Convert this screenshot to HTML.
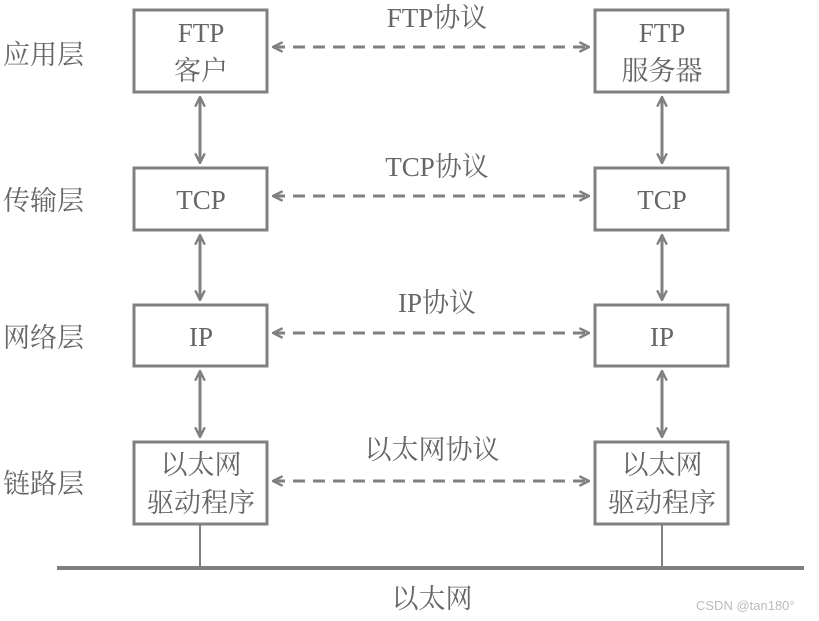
<!DOCTYPE html>
<html><head><meta charset="utf-8"><style>
html,body{margin:0;padding:0;background:#fff;width:819px;height:621px;overflow:hidden}
svg text{font-family:"Liberation Serif","Noto Serif CJK SC",serif;fill:#666;font-size:27px}
</style></head><body>
<svg width="819" height="621" viewBox="0 0 819 621" xmlns="http://www.w3.org/2000/svg">
<defs>
<marker id="a" viewBox="0 0 10 10" refX="9" refY="5" markerWidth="4" markerHeight="4" orient="auto-start-reverse">
<path d="M1,1 L9,5 L1,9" fill="none" stroke="#808080" stroke-width="2"/>
</marker>
</defs>
<g fill="none" stroke="#808080" stroke-width="3">
<rect x="134" y="10" width="133" height="82"/>
<rect x="595" y="10" width="133" height="82"/>
<rect x="134" y="168" width="133" height="62"/>
<rect x="595" y="168" width="133" height="62"/>
<rect x="134" y="305" width="133" height="61"/>
<rect x="595" y="305" width="133" height="61"/>
<rect x="134" y="442" width="133" height="82"/>
<rect x="595" y="442" width="133" height="82"/>
</g>
<g stroke="#808080" stroke-width="3" fill="none" marker-start="url(#a)" marker-end="url(#a)">
<line x1="200" y1="97" x2="200" y2="163"/>
<line x1="662" y1="97" x2="662" y2="163"/>
<line x1="200" y1="235" x2="200" y2="300"/>
<line x1="662" y1="235" x2="662" y2="300"/>
<line x1="200" y1="371" x2="200" y2="437"/>
<line x1="662" y1="371" x2="662" y2="437"/>
</g>
<g stroke="#808080" stroke-width="3" fill="none" stroke-dasharray="12,8" marker-start="url(#a)" marker-end="url(#a)">
<line x1="273" y1="47" x2="589" y2="47"/>
<line x1="273" y1="196" x2="589" y2="196"/>
<line x1="273" y1="333" x2="589" y2="333"/>
<line x1="273" y1="481" x2="589" y2="481"/>
</g>
<g stroke="#808080" stroke-width="2">
<line x1="200" y1="524" x2="200" y2="568"/>
<line x1="662" y1="524" x2="662" y2="568"/>
</g>
<line x1="57" y1="568" x2="804" y2="568" stroke="#808080" stroke-width="4"/>
<g text-anchor="middle">
<text x="201" y="42">FTP</text><text x="201" y="80">客户</text>
<text x="662" y="42">FTP</text><text x="662" y="80">服务器</text>
<text x="201" y="209">TCP</text><text x="662" y="209">TCP</text>
<text x="201" y="346">IP</text><text x="662" y="346">IP</text>
<text x="201" y="474">以太网</text><text x="201" y="512">驱动程序</text>
<text x="662" y="474">以太网</text><text x="662" y="512">驱动程序</text>
<text x="437" y="27">FTP协议</text>
<text x="437" y="176">TCP协议</text>
<text x="437" y="312">IP协议</text>
<text x="432" y="459">以太网协议</text>
<text x="432" y="608">以太网</text>
</g>
<text x="3" y="64">应用层</text>
<text x="3" y="210">传输层</text>
<text x="3" y="347">网络层</text>
<text x="3" y="493">链路层</text>
<text x="696" y="610" style="font-family:'Liberation Sans',sans-serif;font-size:13px;fill:#bbb">CSDN @tan180°</text>
</svg>
</body></html>
